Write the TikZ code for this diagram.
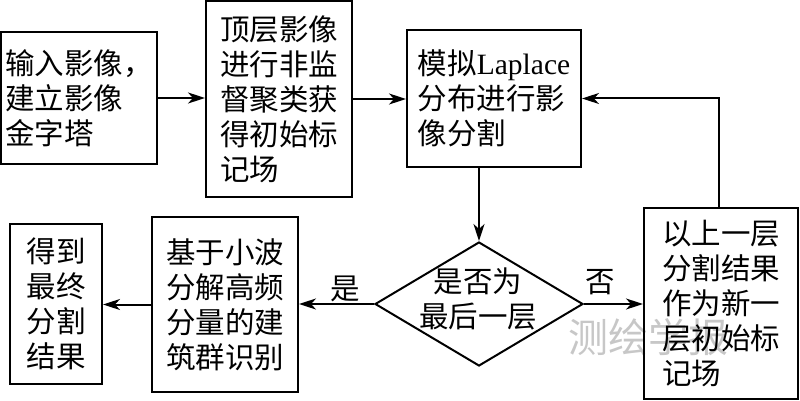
\documentclass[tikz,border=0pt]{standalone}
\usepackage{fontspec}
\setmainfont{Liberation Serif}
\newfontfamily\cjk{Noto Sans CJK SC}
\usetikzlibrary{arrows.meta,shapes.geometric}
\tikzset{
  box/.style={draw, line width=2pt, rectangle, inner sep=0pt, align=left,
    font=\fontsize{29.5}{35}\selectfont\cjk},
  conn/.style={line width=2pt, -{Stealth[length=17pt,width=11pt,inset=5pt]}},
  lbl/.style={font=\fontsize{29.5}{35}\selectfont\cjk, inner sep=0pt},
  wm/.style={text=black!22, font=\fontsize{40}{40}\selectfont\cjk, inner sep=0pt}
}
\begin{document}
\begin{tikzpicture}[x=1pt,y=-1pt]
\useasboundingbox (0,0) rectangle (800,401);
\node[wm] (wmk) at (648,337) {测绘学报};
\node[box, minimum width=156pt, minimum height=132pt] (B1) at (79,98) {输入影像，\\建立影像\\金字塔};
\node[box, minimum width=146pt, minimum height=196pt] (B2) at (279,99) {顶层影像\\进行非监\\督聚类获\\得初始标\\记场};
\node[box, minimum width=174pt, minimum height=137pt] (B3) at (494,98.5) {模拟{\rmfamily Laplace}\\分布进行影\\像分割};
\node[diamond, draw, line width=2pt, minimum width=208pt, minimum height=124pt, aspect=1.68, inner sep=0pt] (D) at (479,304) {};
\node[lbl, align=center] (Dt) at (478,299) {是否为\\最后一层};
\node[box, minimum width=154pt, minimum height=191pt] (R) at (721,303.5) {以上一层\\分割结果\\作为新一\\层初始标\\记场};
\node[box, minimum width=146pt, minimum height=175pt] (W) at (225,304.5) {基于小波\\分解高频\\分量的建\\筑群识别};
\node[box, minimum width=92pt, minimum height=160pt] (F) at (56,304) {得到\\最终\\分割\\结果};
\draw[conn] (B1.east) -- (B1.east -| B2.west);
\draw[conn] (B2.east) -- (B2.east -| B3.west);
\draw[conn] (D.north |- B3.south) -- (D.north);
\draw[conn] (D.east) -- (D.east -| R.west);
\draw[conn] ([xshift=-2pt]R.north) |- (B3.east);
\draw[conn] (D.west) -- (D.west -| W.east);
\draw[conn] (W.west) -- (W.west -| F.east);
\node[lbl] (no) at (600,282) {否};
\node[lbl] (yes) at (345,289) {是};
\end{tikzpicture}
\end{document}
